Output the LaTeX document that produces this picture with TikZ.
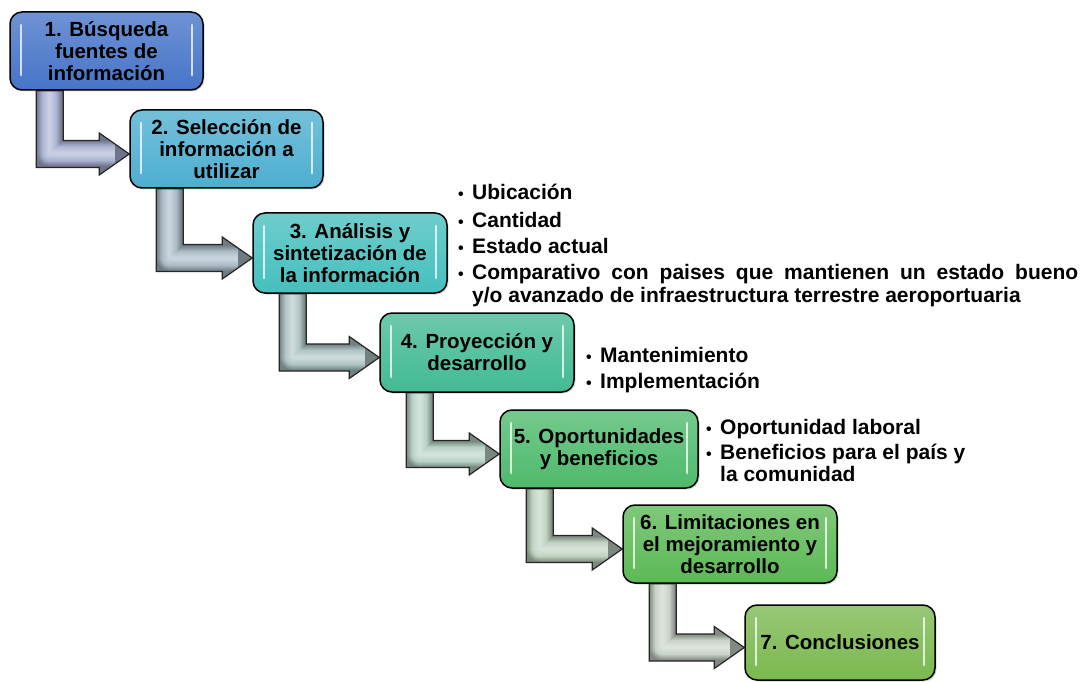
\documentclass[tikz,border=0pt]{standalone}
\usepackage{fontspec}
\setmainfont{Liberation Sans}
\usetikzlibrary{calc,shadows,backgrounds}
\definecolor{c1}{HTML}{4674C8}
\definecolor{c2}{HTML}{4DAED0}
\definecolor{c3}{HTML}{45BFBD}
\definecolor{c4}{HTML}{43BA94}
\definecolor{c5}{HTML}{4EBA6C}
\definecolor{c6}{HTML}{5CB955}
\definecolor{c7}{HTML}{7BB84F}
\definecolor{a1}{HTML}{ABB3D2}
\definecolor{a2}{HTML}{ABBBC6}
\definecolor{a3}{HTML}{B0C5C5}
\definecolor{a4}{HTML}{B8D2C6}
\definecolor{a5}{HTML}{BFD2C0}
\definecolor{a6}{HTML}{C8D2C8}
\tikzset{
  pbox/.style={draw=black, line width=1.5pt, rounded corners=12pt, align=center,
    inner sep=0pt, font=\fontsize{20.5}{22}\selectfont\bfseries,
    top color=#1!78!white, bottom color=#1,
    drop shadow={shadow xshift=1.5pt, shadow yshift=-1.5pt, opacity=0.3},
    path picture={
      \draw[white, opacity=0.75, line width=2.8pt, line cap=round]
        ([shift={(11pt,-13pt)}]path picture bounding box.north west) --
        ([shift={(11pt,15pt)}]path picture bounding box.south west)
        ([shift={(-11pt,-13pt)}]path picture bounding box.north east) --
        ([shift={(-11pt,15pt)}]path picture bounding box.south east);
    }},
  btxt/.style={anchor=base west, inner sep=0pt, font=\fontsize{21}{23}\selectfont\bfseries}
}
\newcommand\bul{\makebox[14pt][l]{\fontsize{16}{16}\selectfont •}}
\newcommand\bendarr[4]{%
  \path let \p1=(#1.south west), \p2=(#2.west) in
    coordinate (#4A) at (\x1+27pt,\y1)
    coordinate (#4B) at (\x1+54pt,\y1)
    coordinate (#4C) at (\x1+54pt,\y2+8.5pt)
    coordinate (#4D) at (\x2-30pt,\y2+8.5pt)
    coordinate (#4E) at (\x2-30pt,\y2+16pt)
    coordinate (#4T) at (\x2,\y2-5pt)
    coordinate (#4F) at (\x2-30pt,\y2-26pt)
    coordinate (#4G) at (\x2-30pt,\y2-18.5pt)
    coordinate (#4H) at (\x1+27pt,\y2-18.5pt)
    coordinate (#4P) at (\x1+40.5pt,\y1+2pt)
    coordinate (#4Q) at (\x1+40.5pt,\y2-5pt)
    coordinate (#4R) at (\x2-14pt,\y2-5pt);
  \begin{scope}
    \clip (#4A)--(#4B)--(#4C)--(#4D)--(#4E)--(#4T)--(#4F)--(#4G)--(#4H)--cycle;
    \fill[#3!65!black] (#4A)--(#4B)--(#4C)--(#4D)--(#4E)--(#4T)--(#4F)--(#4G)--(#4H)--cycle;
    \foreach \i in {0,...,11}{
      \pgfmathsetmacro\lw{25-2*\i}
      \ifnum\i<6
        \pgfmathsetmacro\mx{70+6*\i}
        \draw[color=#3!\mx!black, line width=\lw pt, line join=round] (#4P)--(#4Q)--(#4R);
      \else
        \pgfmathsetmacro\mx{100-6*(\i-5)}
        \draw[color=#3!\mx!white, line width=\lw pt, line join=round] (#4P)--(#4Q)--(#4R);
      \fi
    }
  \end{scope}
  \draw[black!85, line width=1.2pt, line join=miter]
    (#4A)--(#4B)--(#4C)--(#4D)--(#4E)--(#4T)--(#4F)--(#4G)--(#4H)--cycle;
}
\begin{document}
\begin{tikzpicture}[x=1pt, y=-1pt]
\useasboundingbox (0,0) rectangle (1088,682);

\node[pbox=c1, minimum width=193pt, minimum height=78pt] (b1) at (106.5,51) {1. Búsqueda\\fuentes de\\información};
\node[pbox=c2, minimum width=193pt, minimum height=78pt] (b2) at (226.5,149) {2. Selección de\\información a\\utilizar};
\node[pbox=c3, minimum width=194pt, minimum height=80pt] (b3) at (350,253) {3. Análisis y\\sintetización de\\la información};
\node[pbox=c4, minimum width=194pt, minimum height=79pt] (b4) at (477,352.5) {4. Proyección y\\desarrollo};
\node[pbox=c5, minimum width=198pt, minimum height=78pt] (b5) at (599,449) {5. Oportunidades\\y beneficios};
\node[pbox=c6, minimum width=214pt, minimum height=78pt] (b6) at (730,544) {6. Limitaciones en\\el mejoramiento y\\desarrollo};
\node[pbox=c7, minimum width=190pt, minimum height=75pt] (b7) at (840,642.5) {7. Conclusiones};

\node[btxt] (u1) at (458,200) {\bul Ubicación};
\node[btxt] (u2) at (458,227) {\bul Cantidad};
\node[btxt] (u3) at (458,253) {\bul Estado actual};
\node[btxt] (u4) at (458,279) {\bul\makebox[606pt][s]{Comparativo con paises que mantienen un estado bueno}};
\node[btxt] (u5) at (472,302) {y/o avanzado de infraestructura terrestre aeroportuaria};

\node[btxt] (m1) at (586,362) {\bul Mantenimiento};
\node[btxt] (m2) at (586,388) {\bul Implementación};

\node[btxt] (o1) at (706,434) {\bul Oportunidad laboral};
\node[btxt] (o2) at (706,459) {\bul Beneficios para el país y};
\node[btxt] (o3) at (720,481) {la comunidad};

\begin{pgfonlayer}{background}
  \fill[white] (0,0) rectangle (1088,682);
  \bendarr{b1}{b2}{a1}{ar1}
  \bendarr{b2}{b3}{a2}{ar2}
  \bendarr{b3}{b4}{a3}{ar3}
  \bendarr{b4}{b5}{a4}{ar4}
  \bendarr{b5}{b6}{a5}{ar5}
  \bendarr{b6}{b7}{a6}{ar6}
\end{pgfonlayer}
\end{tikzpicture}
\end{document}
